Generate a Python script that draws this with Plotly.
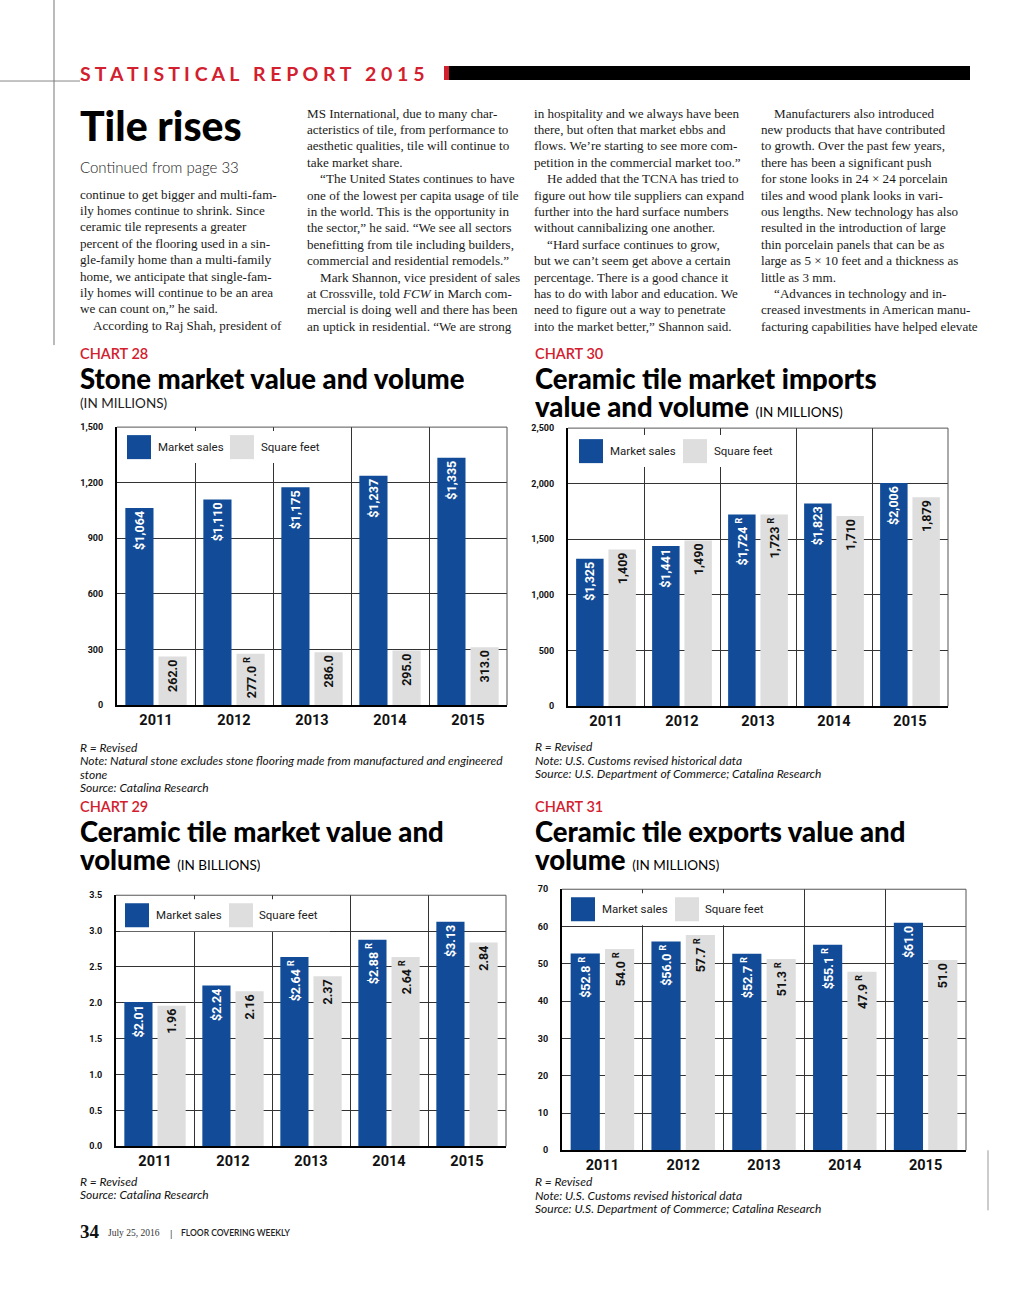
import plotly.graph_objects as go

# ---------------- DATA ----------------
years = ["2011", "2012", "2013", "2014", "2015"]

# Chart 28 - Stone market value and volume (millions)
stone_sales = [1064, 1110, 1175, 1237, 1335]
stone_sales_rev = [False, False, False, False, False]
stone_sqft = [262.0, 277.0, 286.0, 295.0, 313.0]
stone_sqft_rev = [False, True, False, False, False]
stone_ticks = [0, 300, 600, 900, 1200, 1500]

# Chart 30 - Ceramic tile market imports (millions)
imp_sales = [1325, 1441, 1724, 1823, 2006]
imp_sales_rev = [False, False, True, False, False]
imp_sqft = [1409, 1490, 1723, 1710, 1879]
imp_sqft_rev = [False, False, True, False, False]
imp_ticks = [0, 500, 1000, 1500, 2000, 2500]

# Chart 29 - Ceramic tile market value and volume (billions)
cer_sales = [2.01, 2.24, 2.64, 2.88, 3.13]
cer_sales_rev = [False, False, True, True, False]
cer_sqft = [1.96, 2.16, 2.37, 2.64, 2.84]
cer_sqft_rev = [False, False, False, True, False]
cer_ticks = [0.0, 0.5, 1.0, 1.5, 2.0, 2.5, 3.0, 3.5]

# Chart 31 - Ceramic tile exports (millions)
exp_sales = [52.8, 56.0, 52.7, 55.1, 61.0]
exp_sales_rev = [True, True, True, True, False]
exp_sqft = [54.0, 57.7, 51.3, 47.9, 51.0]
exp_sqft_rev = [True, True, True, True, False]
exp_ticks = [0, 10, 20, 30, 40, 50, 60, 70]

legend_labels = ["Market sales", "Square feet"]

col1 = [
    "continue to get bigger and multi-fam-",
    "ily homes continue to shrink. Since",
    "ceramic tile represents a greater",
    "percent of the flooring used in a sin-",
    "gle-family home than a multi-family",
    "home, we anticipate that single-fam-",
    "ily homes will continue to be an area",
    "we can count on,” he said.",
    "\u2003According to Raj Shah, president of",
]
col2 = [
    "MS International, due to many char-",
    "acteristics of tile, from performance to",
    "aesthetic qualities, tile will continue to",
    "take market share.",
    "\u2003“The United States continues to have",
    "one of the lowest per capita usage of tile",
    "in the world. This is the opportunity in",
    "the sector,” he said. “We see all sectors",
    "benefitting from tile including builders,",
    "commercial and residential remodels.”",
    "\u2003Mark Shannon, vice president of sales",
    "at Crossville, told <i>FCW</i> in March com-",
    "mercial is doing well and there has been",
    "an uptick in residential. “We are strong",
]
col3 = [
    "in hospitality and we always have been",
    "there, but often that market ebbs and",
    "flows. We’re starting to see more com-",
    "petition in the commercial market too.”",
    "\u2003He added that the TCNA has tried to",
    "figure out how tile suppliers can expand",
    "further into the hard surface numbers",
    "without cannibalizing one another.",
    "\u2003“Hard surface continues to grow,",
    "but we can’t seem get above a certain",
    "percentage. There is a good chance it",
    "has to do with labor and education. We",
    "need to figure out a way to penetrate",
    "into the market better,” Shannon said.",
]
col4 = [
    "\u2003Manufacturers also introduced",
    "new products that have contributed",
    "to growth. Over the past few years,",
    "there has been a significant push",
    "for stone looks in 24 × 24 porcelain",
    "tiles and wood plank looks in vari-",
    "ous lengths. New technology has also",
    "resulted in the introduction of large",
    "thin porcelain panels that can be as",
    "large as 5 × 10 feet and a thickness as",
    "little as 3 mm.",
    "\u2003“Advances in technology and in-",
    "creased investments in American manu-",
    "facturing capabilities have helped elevate",
]

# ---------------- STYLE ----------------
W, H = 1024, 1293
BLUE = "#124c98"
GRAY = "#dedede"
RED = "#d3202e"
COND = "Roboto, Liberation Sans, sans-serif"
HEAD = "Lato, Inter, Open Sans, sans-serif"
SERIF = "Liberation Serif, DejaVu Serif, serif"

# empirical correction of vertical placement observed in the rendered photo
Y_OFF, Y_SCALE = 5.0, 0.992


def px(x):
    return x / W


def py(y):
    return 1 - ((y - Y_OFF) / Y_SCALE) / H


fig = go.Figure()
annotations = []
shapes = []


def txt(x, y, text, size, color="#111", family=HEAD, weight="normal", style="normal",
        xanchor="left", yanchor="middle", height=None):
    a = dict(
        x=px(x - 2), y=py(y), xref="paper", yref="paper", text=text, showarrow=False,
        xanchor=xanchor, yanchor=yanchor,
        font=dict(size=size, color=color, family=family, weight=weight, style=style),
    )
    if height is not None:
        a["height"] = height
    annotations.append(a)


def rect(x0, y0, x1, y1, color, layer="above"):
    shapes.append(dict(type="rect", xref="paper", yref="paper",
                       x0=px(x0), x1=px(x1), y0=py(y1), y1=py(y0),
                       fillcolor=color, line=dict(width=0), layer=layer))


def hline(x0, x1, y, color, width=1):
    shapes.append(dict(type="line", xref="paper", yref="paper",
                       x0=px(x0), x1=px(x1), y0=py(y), y1=py(y),
                       line=dict(color=color, width=width)))


def vline(x, y0, y1, color, width=1):
    shapes.append(dict(type="line", xref="paper", yref="paper",
                       x0=px(x), x1=px(x), y0=py(y0), y1=py(y1),
                       line=dict(color=color, width=width)))


def label(values, revised, fmt):
    out = []
    for v, r in zip(values, revised):
        s = fmt(v)
        if r:
            s += " <sup>R</sup>"
        out.append(s)
    return out


layout_axes = {}


def add_chart(n, xpx, ypx, sales, sales_txt, sqft, sqft_txt, ticks, tickformat, legend_box):
    xa = "x" if n == 1 else f"x{n}"
    ya = "y" if n == 1 else f"y{n}"
    xkey = "xaxis" if n == 1 else f"xaxis{n}"
    ykey = "yaxis" if n == 1 else f"yaxis{n}"
    for vals, txts, col, tcol, name in [
        (sales, sales_txt, BLUE, "white", legend_labels[0]),
        (sqft, sqft_txt, GRAY, "#111", legend_labels[1]),
    ]:
        fig.add_trace(go.Bar(
            x=years, y=vals, text=txts, name=name, xaxis=xa, yaxis=ya,
            marker=dict(color=col, line=dict(width=0)),
            textposition="inside", insidetextanchor="end", textangle=-90,
            constraintext="none", cliponaxis=False,
            textfont=dict(color=tcol, size=12.5, family=COND, weight="bold"),
            showlegend=False, hoverinfo="skip",
        ))
    layout_axes[xkey] = dict(
        type="category", domain=[px(xpx[0]), px(xpx[1])], anchor=ya,
        tickson="boundaries", showgrid=True, gridcolor="#333333", gridwidth=1,
        showline=True, linecolor="#000", linewidth=2, ticks="", ticklen=0,
        tickfont=dict(size=14.5, family=COND, weight="bold", color="#111"),
        range=[-0.5, 4.5], fixedrange=True,
    )
    layout_axes[ykey] = dict(
        domain=[py(ypx[1]), py(ypx[0])], anchor=xa, range=[ticks[0], ticks[-1]],
        tickvals=ticks, tickformat=tickformat, showgrid=True, gridcolor="#333333",
        gridwidth=1, zeroline=False, showline=True, linecolor="#000", linewidth=2,
        ticks="", ticklabelstandoff=10,
        tickfont=dict(size=9, family=COND, weight="bold", color="#111"),
        fixedrange=True,
    )
    # top & right frame
    hline(xpx[0], xpx[1], ypx[0], "#555", 1)
    vline(xpx[1], ypx[0], ypx[1], "#555", 1)
    # legend (white panel hides the gridlines behind it)
    bx0, by0, bx1, by1, b1, t1, g1, t2 = legend_box
    rect(bx0, by0, bx1, by1, "white")
    rect(b1, by0 + 4, b1 + 24, by1 - 4, BLUE)
    rect(g1, by0 + 4, g1 + 24, by1 - 4, GRAY)
    ym = (by0 + by1) / 2
    txt(t1, ym, legend_labels[0], 11.5, "#222", COND)
    txt(t2, ym, legend_labels[1], 11.5, "#222", COND)


# Chart 28
add_chart(1, (117, 507), (427, 705),
          stone_sales, label(stone_sales, stone_sales_rev, lambda v: f"${v:,.0f}"),
          stone_sqft, label(stone_sqft, stone_sqft_rev, lambda v: f"{v:.1f}"),
          stone_ticks, ",", (121, 431, 335, 463, 127, 158, 230, 261))
# Chart 30
add_chart(2, (568, 948), (428, 706),
          imp_sales, label(imp_sales, imp_sales_rev, lambda v: f"${v:,.0f}"),
          imp_sqft, label(imp_sqft, imp_sqft_rev, lambda v: f"{v:,.0f}"),
          imp_ticks, ",", (572, 435, 790, 467, 579, 610, 683, 714))
# Chart 29
add_chart(3, (116, 506), (895, 1146),
          cer_sales, label(cer_sales, cer_sales_rev, lambda v: f"${v:.2f}"),
          cer_sqft, label(cer_sqft, cer_sqft_rev, lambda v: f"{v:.2f}"),
          cer_ticks, ".1f", (120, 899, 330, 931, 125, 156, 229, 259))
# Chart 31
add_chart(4, (562, 966), (889, 1150),
          exp_sales, label(exp_sales, exp_sales_rev, lambda v: f"${v:.1f}"),
          exp_sqft, label(exp_sqft, exp_sqft_rev, lambda v: f"{v:.1f}"),
          exp_ticks, "d", (566, 893, 780, 925, 571, 602, 675, 705))

# ---------------- PAGE TEXT ----------------
# header
txt(80, 73, "S T A T I S T I C A L &nbsp; R E P O R T &nbsp; 2 0 1 5", 19.5, RED, HEAD, "bold")
rect(444, 66, 449, 80, RED)
rect(449, 66, 970, 80, "#000")
hline(0, 80, 81, "#888", 1)
vline(54, 0, 345, "#777", 1)

txt(80, 125, "Tile rises", 41, "#000", HEAD, 900)
txt(80, 167, "Continued from page 33", 15, "#222", HEAD, 300)

LH = 16.4
TS = 13.1
for i, line in enumerate(col1):
    txt(80, 194 + i * LH, line, TS, "#1a1a1a", SERIF)
for cx, col in [(307, col2), (534, col3), (761, col4)]:
    for i, line in enumerate(col):
        txt(cx, 113 + i * LH, line, TS, "#1a1a1a", SERIF)

SUB = "<span style='font-size:13.5px;font-weight:400'>"
TH = 26  # box height of the big title lines (lines sit 28px apart)
# chart 28 titles
txt(80, 353, "CHART 28", 14.5, RED, HEAD, 600)
txt(80, 378, "Stone market value and volume", 27.5, "#000", HEAD, 900, height=TH)
txt(80, 403, "(IN MILLIONS)", 13.5, "#222", HEAD)
# chart 30 titles
txt(535, 353, "CHART 30", 14.5, RED, HEAD, 600)
txt(535, 378, "Ceramic tile market imports", 27.5, "#000", HEAD, 900, height=TH)
txt(535, 406, "value and volume " + SUB + "(IN MILLIONS)</span>", 27.5, "#000", HEAD, 900, height=TH)
# chart 29 titles
txt(80, 806, "CHART 29", 14.5, RED, HEAD, 600)
txt(80, 831, "Ceramic tile market value and", 27.5, "#000", HEAD, 900, height=TH)
txt(80, 859, "volume " + SUB + "(IN BILLIONS)</span>", 27.5, "#000", HEAD, 900, height=TH)
# chart 31 titles
txt(535, 806, "CHART 31", 14.5, RED, HEAD, 600)
txt(535, 831, "Ceramic tile exports value and", 27.5, "#000", HEAD, 900, height=TH)
txt(535, 859, "volume " + SUB + "(IN MILLIONS)</span>", 27.5, "#000", HEAD, 900, height=TH)

# notes
NS = 12
txt(80, 747, "R = Revised", NS, "#111", HEAD, style="italic")
txt(80, 760, "Note: Natural stone excludes stone flooring made from manufactured and engineered", NS, "#111", HEAD, style="italic")
txt(80, 774, "stone", NS, "#111", HEAD, style="italic")
txt(80, 787, "Source: Catalina Research", NS, "#111", HEAD, style="italic")

txt(535, 746, "R = Revised", NS, "#111", HEAD, style="italic")
txt(535, 760, "Note: U.S. Customs revised historical data", NS, "#111", HEAD, style="italic")
txt(535, 773, "Source: U.S. Department of Commerce; Catalina Research", NS, "#111", HEAD, style="italic")

txt(80, 1181, "R = Revised", NS, "#111", HEAD, style="italic")
txt(80, 1194, "Source: Catalina Research", NS, "#111", HEAD, style="italic")

txt(535, 1181, "R = Revised", NS, "#111", HEAD, style="italic")
txt(535, 1195, "Note: U.S. Customs revised historical data", NS, "#111", HEAD, style="italic")
txt(535, 1208, "Source: U.S. Department of Commerce; Catalina Research", NS, "#111", HEAD, style="italic")

# footer
txt(80, 1231, "34", 19, "#111", SERIF, "bold")
txt(108, 1233, "July 25, 2016", 9.5, "#333", SERIF)
txt(170, 1233, "|", 9.5, "#333", HEAD)
txt(181, 1233, "FLOOR COVERING WEEKLY", 8.5, "#222", HEAD, 600)
vline(988, 1150, 1210, "#999", 1)

fig.update_layout(
    width=W, height=H, margin=dict(l=0, r=0, t=0, b=0),
    paper_bgcolor="white", plot_bgcolor="white",
    barmode="group", bargap=0.15, bargroupgap=0.15,
    showlegend=False, annotations=annotations, shapes=shapes,
    **layout_axes,
)

fig.write_html(
    "out.html", config={"displayModeBar": False, "staticPlot": True},
    post_script=(
        "document.documentElement.style.margin='0';"
        "document.documentElement.style.padding='0';"
        "document.documentElement.style.overflow='hidden';"
        "document.body.style.margin='0';"
        "document.body.style.padding='0';"
        "document.body.style.overflow='hidden';"
    ),
)
